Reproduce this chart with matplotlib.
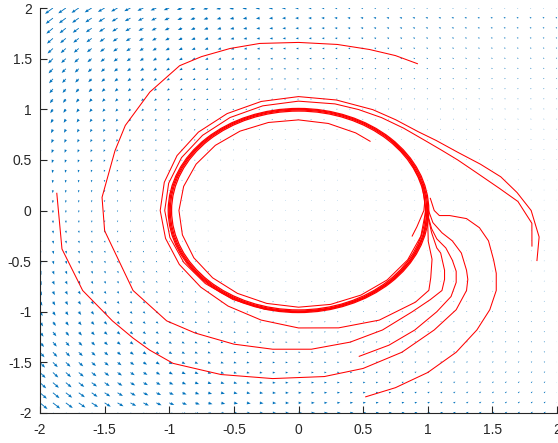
import numpy as np
import matplotlib.pyplot as plt
from matplotlib.patches import Ellipse

plt.rcParams['font.family'] = ['Liberation Sans', 'DejaVu Sans']

# grid of the direction field (MATLAB style quiver, step 0.1)
grid_x = np.arange(-2, 2.0001, 0.1)
grid_y = np.arange(-2, 2.0001, 0.1)
# speed weight of the field (long at left corners, short at right)
speed_k = 0.4

# outer trajectories, (x, y)
traj_a = [(0.92, 1.45), (0.75, 1.53), (0.55, 1.59), (0.30, 1.64), (0.0, 1.66), (-0.30, 1.65),
          (-0.53, 1.60), (-0.75, 1.52), (-0.92, 1.43), (-1.15, 1.17), (-1.34, 0.84),
          (-1.42, 0.59), (-1.52, 0.13), (-1.50, -0.20), (-1.28, -0.79), (-1.02, -1.09),
          (-0.80, -1.21), (-0.50, -1.32), (-0.20, -1.37), (0.10, -1.37), (0.40, -1.30),
          (0.65, -1.18), (0.88, -1.00), (1.02, -0.88), (1.11, -0.79), (1.13, -0.68),
          (1.13, -0.59), (1.10, -0.42), (1.07, -0.37), (1.03, -0.22), (1.00, -0.05)]
traj_b = [(-1.87, 0.17), (-1.83, -0.38), (-1.67, -0.79), (-1.44, -1.09), (-1.28, -1.26),
          (-1.15, -1.38), (-0.97, -1.51), (-0.60, -1.62), (-0.20, -1.66), (0.20, -1.64),
          (0.50, -1.56), (0.80, -1.40), (1.05, -1.18), (1.22, -0.98), (1.30, -0.79),
          (1.31, -0.68), (1.30, -0.59), (1.26, -0.42), (1.19, -0.30), (1.11, -0.22),
          (1.04, -0.12), (1.00, 0.02)]
traj_e = [(0.47, -1.44), (0.70, -1.33), (0.90, -1.18), (1.07, -1.00), (1.18, -0.85),
          (1.22, -0.71), (1.22, -0.60), (1.19, -0.49), (1.14, -0.37), (1.07, -0.28),
          (1.03, -0.18), (1.00, -0.04)]
traj_f = [(0.52, -1.84), (0.75, -1.75), (1.00, -1.60), (1.22, -1.40), (1.38, -1.18),
          (1.48, -0.98), (1.53, -0.79), (1.53, -0.62), (1.51, -0.49), (1.47, -0.30),
          (1.40, -0.17), (1.30, -0.08), (1.17, -0.05), (1.09, -0.05), (1.05, 0.00),
          (1.02, 0.12)]

# trajectories near the cycle, traced as (angle in degrees, radius)
traj_c = [(-11, 1.84), (-4, 1.81), (3, 1.70), (8, 1.57), (15, 1.43), (22, 1.33), (28, 1.26),
          (35, 1.20), (45, 1.15), (55, 1.12), (65, 1.10), (75, 1.09), (90, 1.08), (105, 1.07),
          (120, 1.06), (135, 1.05), (150, 1.045), (165, 1.04), (180, 1.035), (195, 1.03),
          (210, 1.025), (225, 1.02), (240, 1.015), (255, 1.01), (270, 1.005), (285, 1.0),
          (300, 1.0), (315, 1.0), (330, 1.0), (345, 1.0), (360, 1.0)]
traj_d = [(-15, 1.91), (-8, 1.88), (0, 1.80), (6, 1.70), (12, 1.60), (18, 1.48), (25, 1.36),
          (33, 1.27), (40, 1.21), (50, 1.17), (60, 1.15), (75, 1.13), (90, 1.125), (105, 1.115),
          (120, 1.105), (135, 1.095), (150, 1.085), (165, 1.075), (180, 1.07), (195, 1.065),
          (210, 1.065), (225, 1.07), (240, 1.09), (255, 1.12), (270, 1.16), (285, 1.20),
          (300, 1.25), (315, 1.28), (322, 1.28), (327, 1.22), (335, 1.14), (343, 1.05),
          (352, 1.01), (365, 1.0)]
traj_h = [(51, 0.88), (60, 0.885), (75, 0.89), (90, 0.895), (105, 0.90), (120, 0.905),
          (135, 0.91), (150, 0.915), (165, 0.92), (180, 0.925), (195, 0.93), (210, 0.935),
          (225, 0.94), (240, 0.945), (255, 0.95), (270, 0.955), (285, 0.96), (300, 0.965),
          (315, 0.97), (330, 0.975), (345, 0.98), (360, 0.985), (375, 0.99), (390, 0.995),
          (405, 1.0)]
traj_i = [(-16, 0.915), (-10, 0.93), (0, 0.97), (8, 0.99), (15, 1.0)]
# the limit cycle itself (radii of the overlapping loops)
ring_r = [0.982, 0.992, 1.0, 1.008]

tick_vals = [-2, -1.5, -1, -0.5, 0, 0.5, 1, 1.5, 2]
tick_text = ['-2', '-1.5', '-1', '-0.5', '0', '0.5', '1', '1.5', '2']

X, Y = np.meshgrid(grid_x, grid_y)
W = np.exp(-speed_k * (X - np.abs(Y)))
U = -Y * W
V = X * W
mag_max = np.sqrt(U**2 + V**2).max()

fig = plt.figure(figsize=(5.58, 4.43), dpi=100)
ax = fig.add_axes([40 / 558, 30 / 443, 517 / 558, 405 / 443])

ax.quiver(X, Y, U, V, color='#0072BD', angles='xy', scale_units='xy',
          scale=mag_max / 0.09, width=0.0017, headwidth=3.5, headlength=4.5,
          headaxislength=4, minlength=0.6)

for r in ring_r:
    ax.add_patch(Ellipse((0, 0), 2 * r, 2 * r, fill=False, color='red', lw=0.9))
for tr in [traj_a, traj_b, traj_e, traj_f]:
    tx, ty = zip(*tr)
    ax.plot(tx, ty, color='red', lw=0.75)
for tr in [traj_c, traj_d, traj_h, traj_i]:
    ang = np.radians([p[0] for p in tr])
    rad = np.array([p[1] for p in tr])
    ax.plot(rad * np.cos(ang), rad * np.sin(ang), color='red', lw=0.75)

ax.set_xlim(-2, 2)
ax.set_ylim(-2, 2)
ax.set_xticks(tick_vals)
ax.set_yticks(tick_vals)
ax.set_xticklabels(tick_text)
ax.set_yticklabels(tick_text)
ax.spines['top'].set_visible(False)
ax.spines['right'].set_visible(False)
for s in ['left', 'bottom']:
    ax.spines[s].set_color('#262626')
    ax.spines[s].set_linewidth(0.8)
ax.tick_params(direction='in', length=5, width=0.8, colors='#262626', labelsize=10)
ax.tick_params(axis='x', pad=7)
ax.tick_params(axis='y', pad=6)

fig.savefig('out.png', dpi=100)
